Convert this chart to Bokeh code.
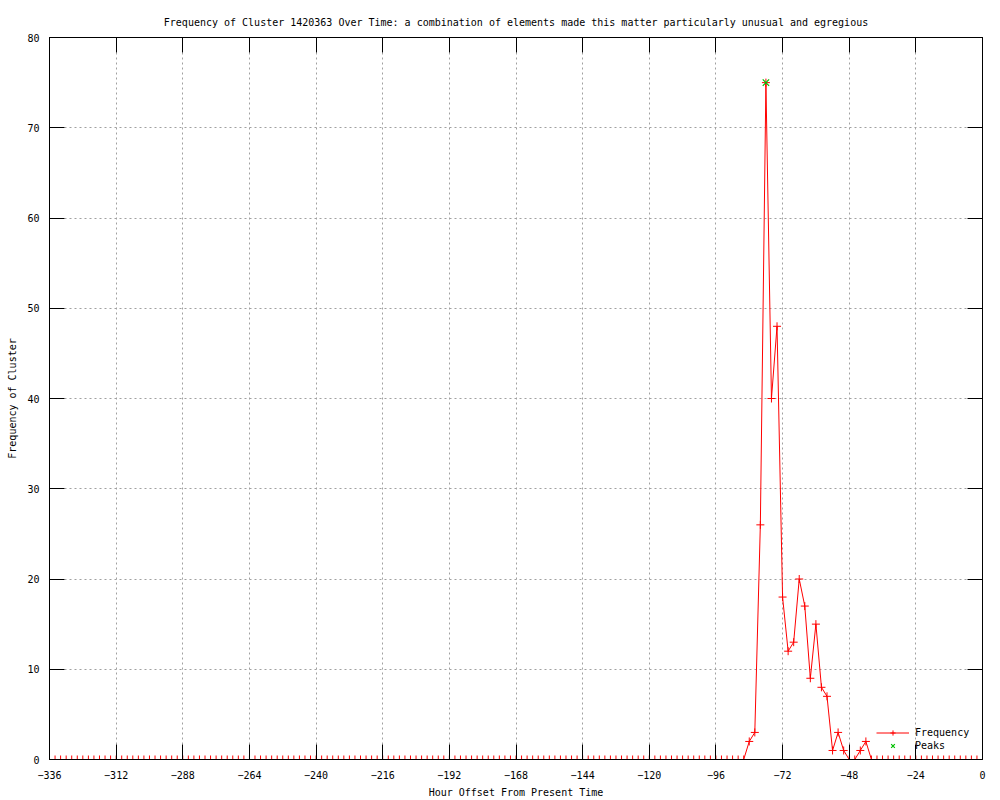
from bokeh.plotting import figure
from bokeh.models import Range1d, FixedTicker, LinearAxis, Legend, LegendItem, CustomLabelingPolicy
from bokeh.embed import file_html
from bokeh.resources import INLINE

# ---- data ----
hours = list(range(-336, 1, 2))  # hourly offsets sampled every 2 hours
freq = [
    0, 0, 0, 0, 0, 0, 0, 0, 0, 0, 0, 0, 0, 0, 0, 0, 0, 0, 0, 0, 0,   # -336 .. -296
    0, 0, 0, 0, 0, 0, 0, 0, 0, 0, 0, 0, 0, 0, 0, 0, 0, 0, 0, 0, 0,   # -294 .. -254
    0, 0, 0, 0, 0, 0, 0, 0, 0, 0, 0, 0, 0, 0, 0, 0, 0, 0, 0, 0, 0,   # -252 .. -212
    0, 0, 0, 0, 0, 0, 0, 0, 0, 0, 0, 0, 0, 0, 0, 0, 0, 0, 0, 0, 0,   # -210 .. -170
    0, 0, 0, 0, 0, 0, 0, 0, 0, 0, 0, 0, 0, 0, 0, 0, 0, 0, 0, 0, 0,   # -168 .. -128
    0, 0, 0, 0, 0, 0, 0, 0, 0, 0, 0, 0, 0, 0, 0, 0, 0, 0, 0, 0, 0,   # -126 .. -86
    2, 3, 26, 75, 40, 48, 18, 12, 13, 20, 17, 9, 15, 8, 7, 1, 3, 1, 0, 0, 1, 2,  # -84 .. -42
    0, 0, 0, 0, 0, 0, 0, 0, 0, 0, 0, 0, 0, 0, 0, 0, 0, 0, 0, 0, 0,   # -40 .. 0
]
peak_hours = [-78]
peak_values = [75]

x_ticks = [-336, -312, -288, -264, -240, -216, -192, -168, -144, -120, -96, -72, -48, -24, 0]
y_ticks = [0, 10, 20, 30, 40, 50, 60, 70, 80]

title_text = ("Frequency of Cluster 1420363 Over Time: a combination of elements "
              "made this matter particularly unusual and egregious")
x_label = "Hour Offset From Present Time"
y_label = "Frequency of Cluster"

FONT = "DejaVu Sans Mono"
FS = "10px"

p = figure(width=1000, height=800, output_backend="svg", toolbar_location=None,
           x_range=Range1d(-336, 0), y_range=Range1d(0, 80),
           min_border_left=49, min_border_right=18, min_border_top=37, min_border_bottom=40,
           title=title_text)

p.background_fill_color = "white"
p.border_fill_color = "white"
p.outline_line_color = "black"
p.outline_line_alpha = 1.0
p.outline_line_width = 1

p.title.align = "center"
p.title.text_font = FONT
p.title.text_font_size = FS
p.title.text_font_style = "normal"
p.title.text_color = "black"
p.title.standoff = 20

xt = FixedTicker(ticks=x_ticks)
yt = FixedTicker(ticks=y_ticks)

for ax, tk in ((p.xaxis[0], xt), (p.yaxis[0], yt)):
    ax.ticker = tk
    ax.major_tick_in = 15
    ax.major_tick_out = 0
    ax.major_tick_line_color = "black"
    ax.minor_tick_line_color = None
    ax.axis_line_color = "black"
    ax.major_label_text_font = FONT
    ax.major_label_text_font_size = FS
    ax.major_label_text_color = "black"
    ax.axis_label_text_font = FONT
    ax.axis_label_text_font_size = FS
    ax.axis_label_text_font_style = "normal"
    ax.axis_label_text_color = "black"

p.xaxis[0].axis_label = x_label
p.yaxis[0].axis_label = y_label
p.xaxis[0].major_label_standoff = 11
p.xaxis[0].axis_label_standoff = 5
p.yaxis[0].major_label_standoff = 10
p.yaxis[0].axis_label_standoff = 6

# mirrored tick marks on top and right border (no labels drawn)
hide_all = "for (let i = 0; i < indices.size; i++) { indices.unset(i) }\nreturn indices"
top = LinearAxis(ticker=xt, major_tick_in=15, major_tick_out=0, minor_tick_line_color=None,
                 major_label_text_font_size="0px", major_label_standoff=0,
                 major_label_policy=CustomLabelingPolicy(code=hide_all),
                 axis_line_color="black", major_tick_line_color="black")
right = LinearAxis(ticker=yt, major_tick_in=15, major_tick_out=0, minor_tick_line_color=None,
                   major_label_text_font_size="0px", major_label_standoff=0,
                   major_label_policy=CustomLabelingPolicy(code=hide_all),
                   axis_line_color="black", major_tick_line_color="black")
p.add_layout(top, "above")
p.add_layout(right, "right")

p.xgrid.ticker = xt
p.ygrid.ticker = yt
for g in (p.xgrid[0], p.ygrid[0]):
    g.grid_line_color = "#a0a0a0"
    g.grid_line_dash = "2 3"
    g.grid_line_width = 1

r_line = p.line(hours, freq, line_color="red", line_width=1)
r_pts = p.scatter(hours, freq, marker="cross", size=8, line_color="red", line_width=1)
r_peak = p.scatter(peak_hours, peak_values, marker="x", size=9, line_color="#00c000", line_width=1.2)

legend = Legend(items=[LegendItem(label="Frequency", renderers=[r_line, r_pts]),
                       LegendItem(label="Peaks", renderers=[r_peak])],
                location=(827, 7),
                background_fill_alpha=0, border_line_color=None,
                label_text_font=FONT, label_text_font_size=FS, label_text_color="black",
                label_standoff=6,
                glyph_width=33, glyph_height=13, label_height=13, spacing=0,
                padding=0, margin=0)
p.add_layout(legend)

open("out.html", "w").write(file_html(p, INLINE))
